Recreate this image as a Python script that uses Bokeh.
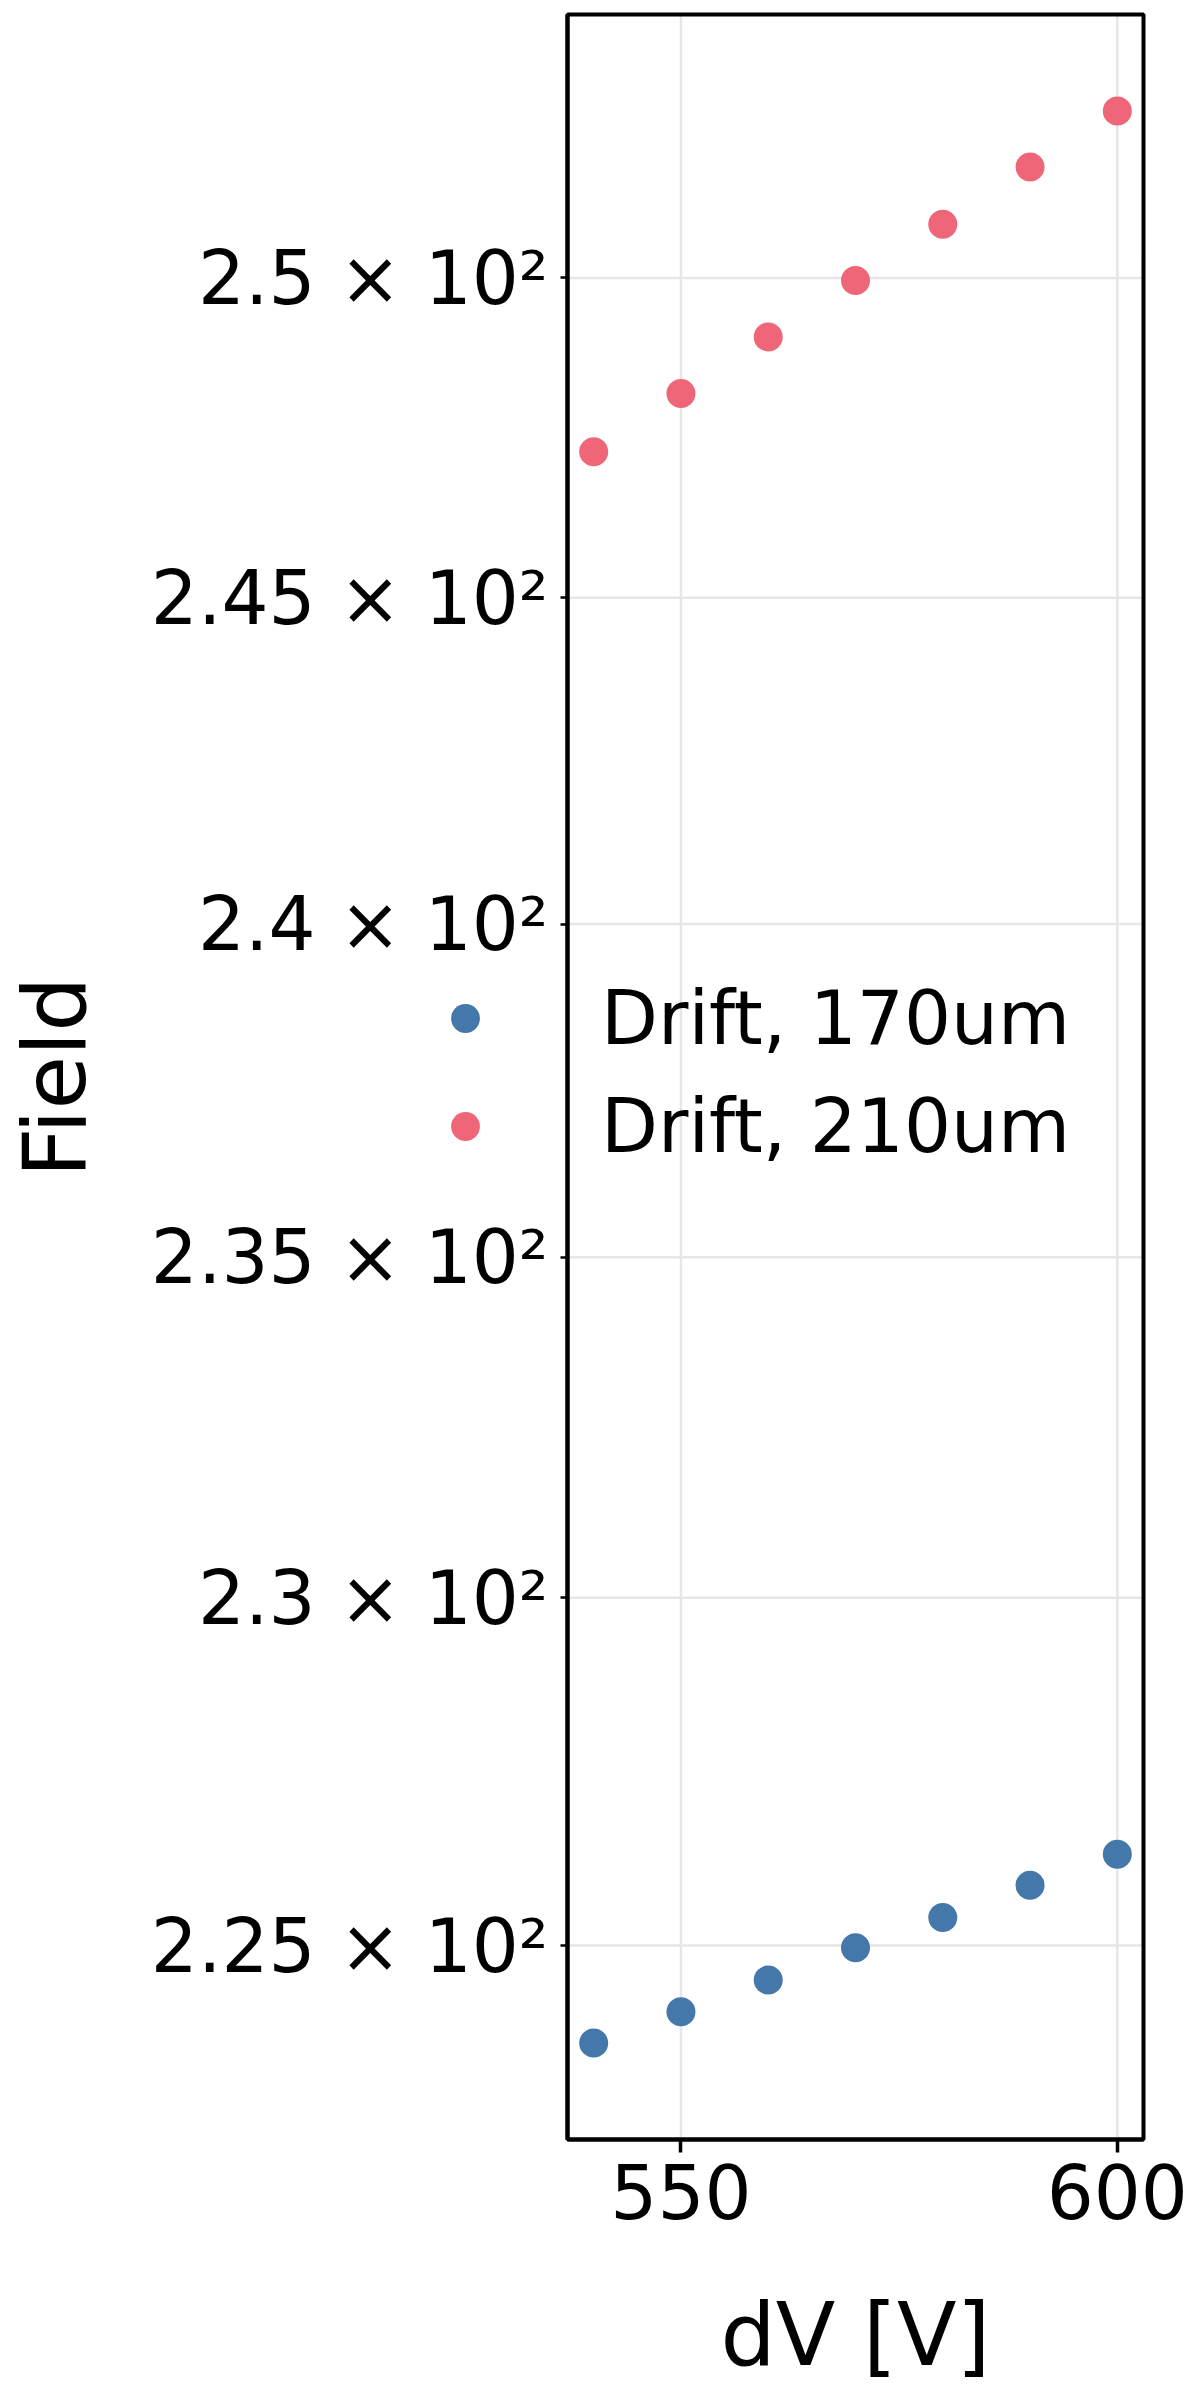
import numpy as np
from bokeh.plotting import figure
from bokeh.models import FixedTicker, Range1d, Legend, LegendItem, BoxAnnotation
from bokeh.embed import file_html
from bokeh.resources import INLINE

# ---- data ----
dv = [540, 550, 560, 570, 580, 590, 600]
field_170 = [223.62, 224.06, 224.51, 224.97, 225.40, 225.86, 226.30]
field_210 = [247.27, 248.18, 249.07, 249.96, 250.85, 251.76, 252.65]
series_names = ["Drift, 170um", "Drift, 210um"]
series_colors = ["#4477AA", "#EE6677"]
x_ticks = [550, 600]
y_ticks = [225, 230, 235, 240, 245, 250]
y_tick_labels = ["2.25 × 10²", "2.3 × 10²", "2.35 × 10²", "2.4 × 10²", "2.45 × 10²", "2.5 × 10²"]

FONT = "DejaVu Sans"
W, H = 1200, 2400
# axes box in screen pixels
L_PX, R_PX, T_PX, B_PX = 567, 1143, 14, 2139

# data limits with 5% margins (log space for y)
xmin, xmax = min(dv), max(dv)
xpad = 0.05 * (xmax - xmin)
xlo, xhi = xmin - xpad, xmax + xpad
allv = np.log10(np.array(field_170 + field_210))
lmin, lmax = allv.min(), allv.max()
lpad = 0.05 * (lmax - lmin)
llo, lhi = lmin - lpad, lmax + lpad
ylo, yhi = 10 ** llo, 10 ** lhi

# extend ranges so the axes box sits at the wanted place in a full-canvas frame
ppx = (R_PX - L_PX) / (xhi - xlo)
ppl = (B_PX - T_PX) / (lhi - llo)
x_range = Range1d(xlo - L_PX / ppx, xhi + (W - R_PX) / ppx)
y_range = Range1d(10 ** (llo - (H - B_PX) / ppl), 10 ** (lhi + T_PX / ppl))

p = figure(width=W, height=H, output_backend="svg", toolbar_location=None,
           y_axis_type="log", x_range=x_range, y_range=y_range,
           min_border_left=0, min_border_right=0, min_border_top=0, min_border_bottom=0)
p.outline_line_color = None
p.background_fill_color = "white"
p.border_fill_color = "white"
p.xgrid.visible = False
p.ygrid.visible = False

GRID = "#e6e6e6"
p.segment(x0=[xlo] * len(y_ticks), y0=y_ticks, x1=[xhi] * len(y_ticks), y1=y_ticks,
          line_color=GRID, line_width=2.5)
p.segment(x0=x_ticks, y0=[ylo] * len(x_ticks), x1=x_ticks, y1=[yhi] * len(x_ticks),
          line_color=GRID, line_width=2.5)

r1 = p.scatter(dv, field_170, size=29, color=series_colors[0], line_color=None)
r2 = p.scatter(dv, field_210, size=29, color=series_colors[1], line_color=None)

box = BoxAnnotation(left=xlo, right=xhi, bottom=ylo, top=yhi, fill_color=None,
                    line_color="black", line_alpha=1.0, line_width=4)
p.add_layout(box)

# x axis
xa = p.xaxis[0]
xa.fixed_location = ylo
xa.bounds = (xlo, xhi)
xa.ticker = FixedTicker(ticks=x_ticks)
xa.axis_label = "dV [V]"
xa.axis_label_text_font = FONT
xa.axis_label_text_font_size = "87px"
xa.axis_label_text_font_style = "normal"
xa.axis_label_text_color = "black"
xa.axis_label_standoff = 62
xa.major_label_text_font = FONT
xa.major_label_text_font_size = "74px"
xa.major_label_text_color = "black"
xa.major_label_standoff = 11
xa.major_tick_out = 13
xa.major_tick_in = 0
xa.major_tick_line_width = 3.5
xa.major_tick_line_color = "black"
xa.minor_tick_line_color = None
xa.axis_line_width = 4
xa.axis_line_color = "black"

# y axis
ya = p.yaxis[0]
ya.fixed_location = xlo
ya.bounds = (ylo, yhi)
ya.ticker = FixedTicker(ticks=y_ticks)
ya.major_label_overrides = {t: l for t, l in zip(y_ticks, y_tick_labels)}
ya.axis_label = "Field"
ya.axis_label_text_font = FONT
ya.axis_label_text_font_size = "87px"
ya.axis_label_text_font_style = "normal"
ya.axis_label_text_color = "black"
ya.axis_label_standoff = 42
ya.major_label_text_font = FONT
ya.major_label_text_font_size = "74px"
ya.major_label_text_color = "black"
ya.major_label_standoff = 12
ya.major_tick_out = 7
ya.major_tick_in = 0
ya.major_tick_line_width = 2.5
ya.major_tick_line_color = "black"
ya.minor_tick_line_color = None
ya.axis_line_width = 4
ya.axis_line_color = "black"

legend = Legend(items=[LegendItem(label=series_names[0], renderers=[r1]),
                       LegendItem(label=series_names[1], renderers=[r2])],
                location=(429, 1231),
                label_text_font=FONT, label_text_font_size="74px", label_text_color="black",
                glyph_width=72, glyph_height=72, label_height=72,
                label_standoff=100, spacing=22, padding=0, margin=0,
                border_line_color=None, background_fill_alpha=0)
p.add_layout(legend, "center")

open("out.html", "w").write(file_html(p, INLINE))
